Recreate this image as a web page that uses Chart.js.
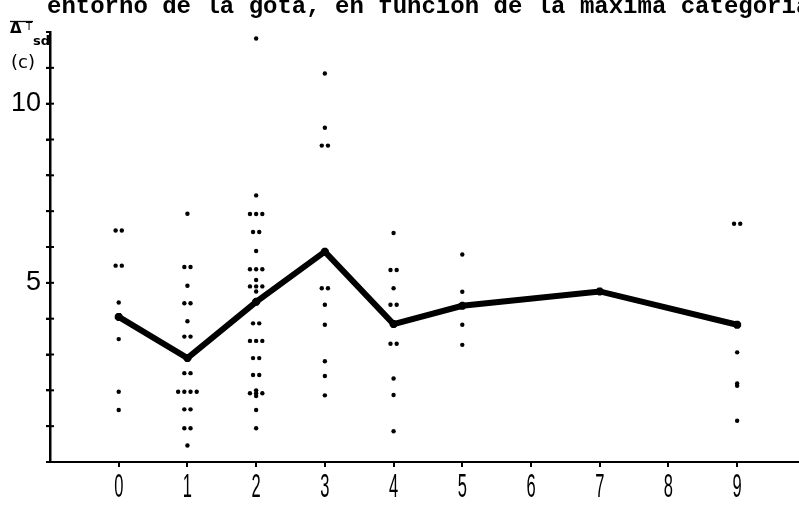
<!DOCTYPE html>
<html>
<head>
<meta charset="utf-8">
<script src="https://cdn.jsdelivr.net/npm/chart.js@4/dist/chart.umd.min.js"></script>
<style>
  html, body { margin: 0; padding: 0; background: #fff; }
  #wrap { width: 799px; height: 508px; }
</style>
</head>
<body>
<div id="wrap"><canvas id="chart" width="799" height="508"></canvas></div>
<script>
'use strict';

/* ── Data ─────────────────────────────────────────────────────────── */
const titleText    = 'entorno de la gota, en función de la máxima categoría';
const categories   = [0, 1, 2, 3, 4, 5, 6, 7, 8, 9];
const xTickLabels  = ['0', '1', '2', '3', '4', '5', '6', '7', '8', '9'];
const yLabelled    = [5, 10];

// mean ΔT per maximum category (6 and 8 have no cases)
const meanCats   = [0, 1, 2, 3, 4, 5, 7, 9];
const meanValues = [4.05, 2.9, 4.47, 5.87, 3.85, 4.36, 4.76, 3.83];

// individual cases, one array per category
const casesCat0 = [6.46, 6.46, 5.48, 5.48, 4.45, 3.43, 1.96, 1.45];
const casesCat1 = [6.93, 5.44, 5.44, 4.92, 4.43, 4.43, 3.93, 3.5, 3.5,
                   2.48, 2.48, 1.96, 1.96, 1.96, 1.96, 1.47, 1.47, 0.94, 0.94, 0.46];
const casesCat2 = [11.82, 7.44, 6.92, 6.92, 6.92, 6.42, 6.42, 5.89, 5.38, 5.38, 5.38,
                   5.08, 4.9, 4.9, 4.9, 4.76, 3.87, 3.87, 3.38, 3.38, 3.38,
                   2.9, 2.9, 2.43, 2.43, 2.0, 1.92, 1.92, 1.92, 1.84, 1.45, 0.94];
const casesCat3 = [10.84, 9.33, 8.83, 8.83, 4.85, 4.85, 4.39, 3.83, 2.81, 2.4, 1.86];
const casesCat4 = [6.39, 5.36, 5.36, 4.85, 4.39, 4.39, 3.3, 3.3, 2.33, 1.87, 0.86];
const casesCat5 = [5.79, 4.75, 3.83, 3.27];
const casesCat9 = [6.65, 6.65, 3.06, 2.19, 2.13, 1.15];

/* ── Helpers ──────────────────────────────────────────────────────── */
// repeated values in one column are spread sideways so each case shows
function spread(cat, values) {
  const seen = {};
  values.forEach(v => { seen[v] = (seen[v] || 0) + 1; });
  const used = {};
  return values.map(v => {
    const n = seen[v];
    const k = used[v] = (used[v] || 0) + 1;
    return { x: cat + (k - 1 - (n - 1) / 2) * 0.09, y: v };
  });
}

const casePoints = [
  ...spread(0, casesCat0), ...spread(1, casesCat1), ...spread(2, casesCat2),
  ...spread(3, casesCat3), ...spread(4, casesCat4), ...spread(5, casesCat5),
  ...spread(9, casesCat9),
];
const meanPoints = meanCats.map((c, i) => ({ x: c, y: meanValues[i] }));

/* ── Annotations: title, axis label, category numbers ─────────────── */
const annotations = {
  id: 'annotations',
  afterDraw(chart) {
    const { ctx } = chart;
    const xs = chart.scales.x;
    const ys = chart.scales.y;
    ctx.save();
    ctx.fillStyle = '#000';
    ctx.strokeStyle = '#000';

    ctx.font = 'bold 24px "Liberation Mono", "DejaVu Sans Mono", monospace';
    ctx.textAlign = 'left';
    ctx.textBaseline = 'alphabetic';
    ctx.fillText(titleText, 47, 13);

    // ΔT with overline, subscript, unit
    ctx.font = 'bold 15px "DejaVu Sans", sans-serif';
    ctx.fillText('Δ', 10, 33);
    ctx.font = '10px "DejaVu Sans", sans-serif';
    ctx.fillText('T', 26, 30);
    ctx.lineWidth = 1.3;
    ctx.beginPath();
    ctx.moveTo(10, 21.5);
    ctx.lineTo(33, 21.5);
    ctx.stroke();
    ctx.font = 'bold 13px "DejaVu Sans", sans-serif';
    ctx.fillText('sd', 33, 45);
    ctx.font = '18px "DejaVu Sans", sans-serif';
    ctx.fillText('(c)', 11, 68);

    // small crossing marks on the value axis
    ctx.lineWidth = 2;
    for (let v = 1; v <= 11; v++) {
      const py = ys.getPixelForValue(v);
      ctx.beginPath();
      ctx.moveTo(xs.left - 4, py);
      ctx.lineTo(xs.left + 4, py);
      ctx.stroke();
    }

    // narrow stencil-like category numbers
    ctx.font = '33px "Liberation Sans", Arial, sans-serif';
    ctx.textAlign = 'center';
    ctx.textBaseline = 'middle';
    categories.forEach((c, i) => {
      const px = xs.getPixelForValue(c);
      ctx.save();
      ctx.translate(px, 488);
      ctx.scale(0.5, 1);
      ctx.fillText(xTickLabels[i], 0, 0);
      ctx.restore();
    });
    ctx.restore();
  },
};

/* ── Chart ────────────────────────────────────────────────────────── */
new Chart(document.getElementById('chart'), {
  type: 'scatter',
  data: {
    datasets: [
      {
        type:             'line',
        label:            'media',
        data:             meanPoints,
        borderColor:      '#000',
        borderWidth:      6,
        borderJoinStyle:  'miter',
        pointStyle:       'star',
        pointRadius:      4,
        pointBorderWidth: 3,
        pointBorderColor: '#000',
        tension:          0,
        fill:             false,
        order:            1,
      },
      {
        label:           'casos',
        data:            casePoints,
        backgroundColor: '#000',
        borderColor:     '#000',
        pointRadius:     2.2,
        borderWidth:     0,
        order:           2,
      },
    ],
  },
  options: {
    responsive: false,
    animation:  false,
    layout:     { autoPadding: false, padding: { top: 32, right: 0, left: 0, bottom: 0 } },
    plugins:    { legend: { display: false }, tooltip: { enabled: false } },
    scales: {
      x: {
        type: 'linear',
        min:  -1,
        max:  9.9,
        afterBuildTicks: s => { s.ticks = categories.map(v => ({ value: v })); },
        afterFit: s => {
          s.height = 46;
          s.paddingLeft = 0;
          s.paddingRight = 0;
        },
        grid:   { drawOnChartArea: false, color: '#000', lineWidth: 2, tickLength: 5 },
        border: { color: '#000', width: 2 },
        ticks:  { callback: () => '', padding: 0 },
      },
      y: {
        min: 0,
        max: 12,
        afterBuildTicks: s => {
          s.ticks = [];
          for (let v = 0; v <= 12; v++) s.ticks.push({ value: v });
        },
        afterFit: s => { s.width = 50; },
        grid:   { drawOnChartArea: false, color: '#000', lineWidth: 2, tickLength: 4 },
        border: { color: '#000', width: 2.5 },
        ticks:  {
          callback: v => (yLabelled.includes(v) ? String(v) : ''),
          color:    '#000',
          padding:  5,
          font:     { family: '"Liberation Sans", Arial, sans-serif', size: 27 },
        },
      },
    },
  },
  plugins: [annotations],
});
</script>
</body>
</html>
